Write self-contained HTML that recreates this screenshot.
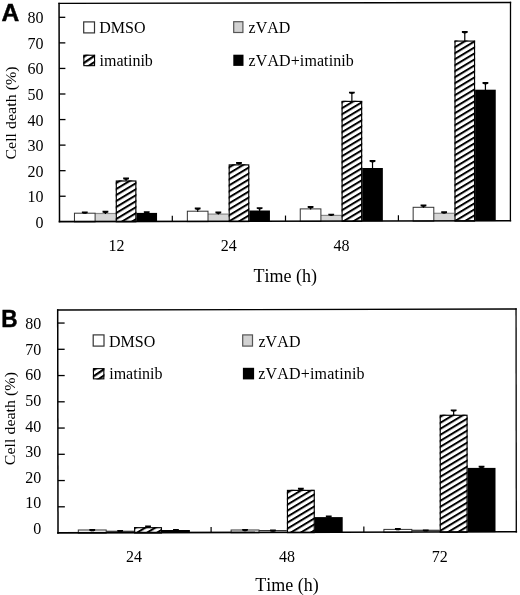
<!DOCTYPE html>
<html><head><meta charset="utf-8"><style>
html,body{margin:0;padding:0;background:#fff;width:520px;height:595px;overflow:hidden;}
svg{display:block;filter:grayscale(1);}
text{font-kerning:none;font-feature-settings:"kern" 0;}
</style></head><body>
<svg width="520" height="595" viewBox="0 0 520 595">
<rect width="520" height="595" fill="#fff"/>
<defs>
<pattern id="h0" patternUnits="userSpaceOnUse" width="10" height="5.14" y="-1.00" patternTransform="translate(117,194.6) rotate(-31)"><rect x="0" y="0" width="10" height="5.14" fill="#fff"/><rect x="0" y="0" width="10" height="2.0" fill="#000"/></pattern>
<pattern id="h1" patternUnits="userSpaceOnUse" width="10" height="5.14" y="-1.00" patternTransform="translate(229.5,191.15) rotate(-31)"><rect x="0" y="0" width="10" height="5.14" fill="#fff"/><rect x="0" y="0" width="10" height="2.0" fill="#000"/></pattern>
<pattern id="h2" patternUnits="userSpaceOnUse" width="10" height="5.14" y="-1.00" patternTransform="translate(342.5,191.9) rotate(-31)"><rect x="0" y="0" width="10" height="5.14" fill="#fff"/><rect x="0" y="0" width="10" height="2.0" fill="#000"/></pattern>
<pattern id="h3" patternUnits="userSpaceOnUse" width="10" height="5.14" y="-1.00" patternTransform="translate(455.5,190.8) rotate(-31)"><rect x="0" y="0" width="10" height="5.14" fill="#fff"/><rect x="0" y="0" width="10" height="2.0" fill="#000"/></pattern>
<pattern id="h4" patternUnits="userSpaceOnUse" width="10" height="5.14" y="-1.00" patternTransform="translate(141.2,530.2) rotate(-31)"><rect x="0" y="0" width="10" height="5.14" fill="#fff"/><rect x="0" y="0" width="10" height="2.0" fill="#000"/></pattern>
<pattern id="h5" patternUnits="userSpaceOnUse" width="10" height="5.14" y="-1.00" patternTransform="translate(288.5,510.0) rotate(-31)"><rect x="0" y="0" width="10" height="5.14" fill="#fff"/><rect x="0" y="0" width="10" height="2.0" fill="#000"/></pattern>
<pattern id="h6" patternUnits="userSpaceOnUse" width="10" height="5.14" y="-1.00" patternTransform="translate(441.1,446.35) rotate(-31)"><rect x="0" y="0" width="10" height="5.14" fill="#fff"/><rect x="0" y="0" width="10" height="2.0" fill="#000"/></pattern>
<pattern id="hatch" patternUnits="userSpaceOnUse" width="10" height="5.14" patternTransform="rotate(-31)"><rect x="0" y="0" width="10" height="5.14" fill="#fff"/><rect x="0" y="0" width="10" height="2.0" fill="#000"/></pattern>
<pattern id="hatchL" patternUnits="userSpaceOnUse" width="10" height="5.2" y="-0.8" patternTransform="rotate(-34)"><rect x="0" y="0" width="10" height="5.2" fill="#fff"/><rect x="0" y="0" width="10" height="2.2" fill="#000"/></pattern>
</defs>
<text x="43.6" y="227.92" text-anchor="end" font-family='"Liberation Serif", serif' font-size="16" fill="#000">0</text>
<line x1="59.45" y1="196.24" x2="65.65" y2="196.24" stroke="#000" stroke-width="1.3"/>
<text x="43.6" y="202.33" text-anchor="end" font-family='"Liberation Serif", serif' font-size="16" fill="#000">10</text>
<line x1="59.39" y1="170.68" x2="65.59" y2="170.68" stroke="#000" stroke-width="1.3"/>
<text x="43.6" y="176.74" text-anchor="end" font-family='"Liberation Serif", serif' font-size="16" fill="#000">20</text>
<line x1="59.34" y1="145.12" x2="65.54" y2="145.12" stroke="#000" stroke-width="1.3"/>
<text x="43.6" y="151.15" text-anchor="end" font-family='"Liberation Serif", serif' font-size="16" fill="#000">30</text>
<line x1="59.29" y1="119.56" x2="65.49" y2="119.56" stroke="#000" stroke-width="1.3"/>
<text x="43.6" y="125.56" text-anchor="end" font-family='"Liberation Serif", serif' font-size="16" fill="#000">40</text>
<line x1="59.24" y1="94.00" x2="65.44" y2="94.00" stroke="#000" stroke-width="1.3"/>
<text x="43.6" y="99.97" text-anchor="end" font-family='"Liberation Serif", serif' font-size="16" fill="#000">50</text>
<line x1="59.18" y1="68.44" x2="65.38" y2="68.44" stroke="#000" stroke-width="1.3"/>
<text x="43.6" y="74.38" text-anchor="end" font-family='"Liberation Serif", serif' font-size="16" fill="#000">60</text>
<line x1="59.13" y1="42.88" x2="65.33" y2="42.88" stroke="#000" stroke-width="1.3"/>
<text x="43.6" y="48.79" text-anchor="end" font-family='"Liberation Serif", serif' font-size="16" fill="#000">70</text>
<line x1="59.08" y1="17.32" x2="65.28" y2="17.32" stroke="#000" stroke-width="1.3"/>
<text x="43.6" y="23.20" text-anchor="end" font-family='"Liberation Serif", serif' font-size="16" fill="#000">80</text>
<line x1="172.30" y1="215.77" x2="172.30" y2="221.37" stroke="#000" stroke-width="1.2"/>
<line x1="285.50" y1="215.55" x2="285.50" y2="221.15" stroke="#000" stroke-width="1.2"/>
<line x1="398.40" y1="215.32" x2="398.40" y2="220.92" stroke="#000" stroke-width="1.2"/>
<rect x="95.10" y="213.50" width="20.65" height="8.31" fill="#d6d6d6"/>
<line x1="95.10" y1="213.50" x2="115.75" y2="213.50" stroke="#8a8a8a" stroke-width="1.2"/>
<rect x="74.45" y="213.20" width="20.65" height="8.65" fill="#fff" stroke="#333" stroke-width="1"/>
<rect x="115.75" y="180.40" width="20.65" height="41.37" fill="url(#h0)"/>
<rect x="116.30" y="181.00" width="19.55" height="40.77" fill="none" stroke="#000" stroke-width="1.15"/>
<rect x="136.40" y="212.90" width="20.65" height="8.83" fill="#000"/>
<rect x="208.00" y="214.10" width="20.65" height="7.48" fill="#d6d6d6"/>
<line x1="208.00" y1="214.10" x2="228.65" y2="214.10" stroke="#8a8a8a" stroke-width="1.2"/>
<rect x="187.35" y="211.20" width="20.65" height="10.42" fill="#fff" stroke="#333" stroke-width="1"/>
<rect x="228.65" y="164.30" width="20.65" height="57.24" fill="url(#h1)"/>
<rect x="229.20" y="164.90" width="19.55" height="56.64" fill="none" stroke="#000" stroke-width="1.15"/>
<rect x="249.30" y="210.50" width="20.65" height="11.00" fill="#000"/>
<rect x="320.90" y="215.40" width="20.65" height="5.96" fill="#d6d6d6"/>
<line x1="320.90" y1="215.40" x2="341.55" y2="215.40" stroke="#8a8a8a" stroke-width="1.2"/>
<rect x="300.25" y="208.90" width="20.65" height="12.50" fill="#fff" stroke="#333" stroke-width="1"/>
<rect x="341.55" y="100.80" width="20.65" height="120.52" fill="url(#h2)"/>
<rect x="342.10" y="101.40" width="19.55" height="119.92" fill="none" stroke="#000" stroke-width="1.15"/>
<rect x="362.20" y="168.00" width="20.65" height="53.28" fill="#000"/>
<rect x="433.80" y="213.30" width="20.65" height="7.83" fill="#d6d6d6"/>
<line x1="433.80" y1="213.30" x2="454.45" y2="213.30" stroke="#8a8a8a" stroke-width="1.2"/>
<rect x="413.15" y="207.30" width="20.65" height="13.87" fill="#fff" stroke="#333" stroke-width="1"/>
<rect x="454.45" y="40.50" width="20.65" height="180.59" fill="url(#h3)"/>
<rect x="455.00" y="41.10" width="19.55" height="179.99" fill="none" stroke="#000" stroke-width="1.15"/>
<rect x="475.10" y="89.70" width="20.65" height="131.35" fill="#000"/>
<path d="M102.52,210.80 L108.33,210.80 L108.33,212.40 L106.02,213.20 L106.02,214.00 L104.83,214.00 L104.83,213.20 L102.52,212.40 Z" fill="#000"/>
<path d="M81.88,211.50 L87.68,211.50 L87.68,213.10 L85.38,213.90 L85.38,213.70 L84.18,213.70 L84.18,213.90 L81.88,213.10 Z" fill="#000"/>
<path d="M123.17,177.60 L128.97,177.60 L128.97,179.20 L126.67,180.00 L126.67,180.90 L125.48,180.90 L125.48,180.00 L123.17,179.20 Z" fill="#000"/>
<path d="M143.82,211.20 L149.62,211.20 L149.62,212.80 L147.32,213.60 L147.32,213.40 L146.12,213.40 L146.12,213.60 L143.82,212.80 Z" fill="#000"/>
<path d="M215.43,211.60 L221.23,211.60 L221.23,213.20 L218.93,214.00 L218.93,214.60 L217.73,214.60 L217.73,214.00 L215.43,213.20 Z" fill="#000"/>
<path d="M194.78,207.60 L200.58,207.60 L200.58,209.20 L198.28,210.00 L198.28,211.70 L197.08,211.70 L197.08,210.00 L194.78,209.20 Z" fill="#000"/>
<path d="M236.08,162.10 L241.88,162.10 L241.88,163.70 L239.58,164.50 L239.58,164.80 L238.38,164.80 L238.38,164.50 L236.08,163.70 Z" fill="#000"/>
<path d="M256.73,207.20 L262.52,207.20 L262.52,208.80 L260.23,209.60 L260.23,211.00 L259.02,211.00 L259.02,209.60 L256.73,208.80 Z" fill="#000"/>
<path d="M328.32,213.70 L334.12,213.70 L334.12,215.30 L331.82,216.10 L331.82,215.90 L330.62,215.90 L330.62,216.10 L328.32,215.30 Z" fill="#000"/>
<path d="M307.68,206.10 L313.47,206.10 L313.47,207.70 L311.18,208.50 L311.18,209.40 L309.97,209.40 L309.97,208.50 L307.68,207.70 Z" fill="#000"/>
<path d="M348.98,91.70 L354.77,91.70 L354.77,93.30 L352.48,94.10 L352.48,101.30 L351.27,101.30 L351.27,94.10 L348.98,93.30 Z" fill="#000"/>
<path d="M369.62,160.10 L375.42,160.10 L375.42,161.70 L373.12,162.50 L373.12,168.50 L371.92,168.50 L371.92,162.50 L369.62,161.70 Z" fill="#000"/>
<path d="M441.23,211.30 L447.02,211.30 L447.02,212.90 L444.73,213.70 L444.73,213.80 L443.52,213.80 L443.52,213.70 L441.23,212.90 Z" fill="#000"/>
<path d="M420.58,204.60 L426.38,204.60 L426.38,206.20 L424.08,207.00 L424.08,207.80 L422.88,207.80 L422.88,207.00 L420.58,206.20 Z" fill="#000"/>
<path d="M461.88,31.10 L467.68,31.10 L467.68,32.70 L465.38,33.50 L465.38,41.00 L464.18,41.00 L464.18,33.50 L461.88,32.70 Z" fill="#000"/>
<path d="M482.53,82.10 L488.32,82.10 L488.32,83.70 L486.03,84.50 L486.03,90.20 L484.82,90.20 L484.82,84.50 L482.53,83.70 Z" fill="#000"/>
<line x1="59.05" y1="3.40" x2="59.50" y2="221.60" stroke="#000" stroke-width="1.5" stroke-linecap="square"/>
<line x1="59.05" y1="3.40" x2="510.50" y2="2.50" stroke="#000" stroke-width="1.3" stroke-linecap="square"/>
<line x1="510.50" y1="2.50" x2="510.40" y2="220.70" stroke="#000" stroke-width="1.3" stroke-linecap="square"/>
<line x1="59.50" y1="221.60" x2="510.40" y2="220.70" stroke="#000" stroke-width="1.6" stroke-linecap="square"/>
<text x="116.55" y="251.0" text-anchor="middle" font-family='"Liberation Serif", serif' font-size="16" font-weight="normal" fill="#000" >12</text>
<text x="228.65" y="251.0" text-anchor="middle" font-family='"Liberation Serif", serif' font-size="16" font-weight="normal" fill="#000" >24</text>
<text x="341.55" y="251.0" text-anchor="middle" font-family='"Liberation Serif", serif' font-size="16" font-weight="normal" fill="#000" >48</text>
<text x="285.2" y="281.8" text-anchor="middle" font-family='"Liberation Serif", serif' font-size="18" font-weight="normal" fill="#000" >Time (h)</text>
<text transform="translate(15.9,113.0) rotate(-90) scale(1.125,1)" text-anchor="middle" font-family='"Liberation Serif", serif' font-size="14.2" fill="#000">Cell death (%)</text>
<rect x="83.70" y="21.90" width="10.80" height="11.00" fill="#fff" stroke="#333" stroke-width="1.2"/>
<text x="99.3" y="33.4" text-anchor="start" font-family='"Liberation Serif", serif' font-size="16" font-weight="normal" fill="#000" >DMSO</text>
<rect x="83.30" y="54.70" width="11.80" height="11.50" fill="url(#hatchL)"/>
<rect x="83.85" y="55.25" width="10.70" height="10.40" fill="none" stroke="#000" stroke-width="1.1"/>
<text x="99.5" y="65.9" text-anchor="start" font-family='"Liberation Serif", serif' font-size="16" font-weight="normal" fill="#000" >imatinib</text>
<rect x="233.70" y="21.70" width="9.20" height="10.80" fill="#d2d2d2" stroke="#555" stroke-width="1.2"/>
<text x="248.6" y="33.3" text-anchor="start" font-family='"Liberation Serif", serif' font-size="16" font-weight="normal" fill="#000" >zVAD</text>
<rect x="233.30" y="54.70" width="10.20" height="11.20" fill="#000"/>
<text x="248.6" y="65.9" text-anchor="start" font-family='"Liberation Serif", serif' font-size="16" font-weight="normal" fill="#000" textLength="105.2" lengthAdjust="spacing">zVAD+imatinib</text>
<text x="1.5" y="20.6" text-anchor="start" font-family='"Liberation Sans", sans-serif' font-size="24.6" font-weight="bold" fill="#000" stroke="#000" stroke-width="0.45">A</text>
<text x="41.2" y="534.01" text-anchor="end" font-family='"Liberation Serif", serif' font-size="16" fill="#000">0</text>
<line x1="57.96" y1="506.80" x2="64.86" y2="506.80" stroke="#000" stroke-width="1.3"/>
<text x="41.2" y="508.39" text-anchor="end" font-family='"Liberation Serif", serif' font-size="16" fill="#000">10</text>
<line x1="57.93" y1="480.55" x2="64.83" y2="480.55" stroke="#000" stroke-width="1.3"/>
<text x="41.2" y="482.77" text-anchor="end" font-family='"Liberation Serif", serif' font-size="16" fill="#000">20</text>
<line x1="57.89" y1="454.30" x2="64.79" y2="454.30" stroke="#000" stroke-width="1.3"/>
<text x="41.2" y="457.15" text-anchor="end" font-family='"Liberation Serif", serif' font-size="16" fill="#000">30</text>
<line x1="57.86" y1="428.05" x2="64.76" y2="428.05" stroke="#000" stroke-width="1.3"/>
<text x="41.2" y="431.53" text-anchor="end" font-family='"Liberation Serif", serif' font-size="16" fill="#000">40</text>
<line x1="57.82" y1="401.80" x2="64.72" y2="401.80" stroke="#000" stroke-width="1.3"/>
<text x="41.2" y="405.91" text-anchor="end" font-family='"Liberation Serif", serif' font-size="16" fill="#000">50</text>
<line x1="57.79" y1="375.55" x2="64.69" y2="375.55" stroke="#000" stroke-width="1.3"/>
<text x="41.2" y="380.29" text-anchor="end" font-family='"Liberation Serif", serif' font-size="16" fill="#000">60</text>
<line x1="57.75" y1="349.30" x2="64.65" y2="349.30" stroke="#000" stroke-width="1.3"/>
<text x="41.2" y="354.67" text-anchor="end" font-family='"Liberation Serif", serif' font-size="16" fill="#000">70</text>
<line x1="57.72" y1="323.05" x2="64.62" y2="323.05" stroke="#000" stroke-width="1.3"/>
<text x="41.2" y="329.05" text-anchor="end" font-family='"Liberation Serif", serif' font-size="16" fill="#000">80</text>
<line x1="211.10" y1="526.93" x2="211.10" y2="532.53" stroke="#000" stroke-width="1.2"/>
<line x1="363.85" y1="526.57" x2="363.85" y2="532.17" stroke="#000" stroke-width="1.2"/>
<rect x="106.20" y="531.30" width="27.90" height="1.75" fill="#d6d6d6"/>
<line x1="106.20" y1="531.30" x2="134.10" y2="531.30" stroke="#333" stroke-width="1.2"/>
<rect x="78.30" y="530.00" width="27.90" height="3.12" fill="#fff" stroke="#333" stroke-width="1"/>
<rect x="134.10" y="527.10" width="27.90" height="5.88" fill="url(#h4)"/>
<rect x="134.65" y="527.70" width="26.80" height="5.28" fill="none" stroke="#000" stroke-width="1.15"/>
<rect x="162.00" y="530.00" width="27.90" height="2.92" fill="#000"/>
<rect x="259.00" y="530.60" width="27.90" height="2.08" fill="#d6d6d6"/>
<line x1="259.00" y1="530.60" x2="286.90" y2="530.60" stroke="#333" stroke-width="1.2"/>
<rect x="231.10" y="530.00" width="27.90" height="2.75" fill="#fff" stroke="#333" stroke-width="1"/>
<rect x="286.90" y="489.80" width="27.90" height="42.82" fill="url(#h5)"/>
<rect x="287.45" y="490.40" width="26.80" height="42.22" fill="none" stroke="#000" stroke-width="1.15"/>
<rect x="314.80" y="517.10" width="27.90" height="15.45" fill="#000"/>
<rect x="411.80" y="530.30" width="27.90" height="2.02" fill="#d6d6d6"/>
<line x1="411.80" y1="530.30" x2="439.70" y2="530.30" stroke="#333" stroke-width="1.2"/>
<rect x="383.90" y="529.40" width="27.90" height="2.98" fill="#fff" stroke="#333" stroke-width="1"/>
<rect x="439.70" y="414.70" width="27.90" height="117.55" fill="url(#h6)"/>
<rect x="440.25" y="415.30" width="26.80" height="116.95" fill="none" stroke="#000" stroke-width="1.15"/>
<rect x="467.60" y="467.90" width="27.90" height="64.28" fill="#000"/>
<path d="M117.25,530.00 L123.05,530.00 L123.05,531.60 L120.75,532.40 L120.75,532.20 L119.55,532.20 L119.55,532.40 L117.25,531.60 Z" fill="#000"/>
<path d="M89.35,529.10 L95.15,529.10 L95.15,530.70 L92.85,531.50 L92.85,531.30 L91.65,531.30 L91.65,531.50 L89.35,530.70 Z" fill="#000"/>
<path d="M145.15,525.60 L150.95,525.60 L150.95,527.20 L148.65,528.00 L148.65,527.80 L147.45,527.80 L147.45,528.00 L145.15,527.20 Z" fill="#000"/>
<path d="M173.05,529.00 L178.85,529.00 L178.85,530.60 L176.55,531.40 L176.55,531.20 L175.35,531.20 L175.35,531.40 L173.05,530.60 Z" fill="#000"/>
<path d="M270.05,529.60 L275.85,529.60 L275.85,531.20 L273.55,532.00 L273.55,531.80 L272.35,531.80 L272.35,532.00 L270.05,531.20 Z" fill="#000"/>
<path d="M242.15,529.00 L247.95,529.00 L247.95,530.60 L245.65,531.40 L245.65,531.20 L244.45,531.20 L244.45,531.40 L242.15,530.60 Z" fill="#000"/>
<path d="M297.95,487.80 L303.75,487.80 L303.75,489.40 L301.45,490.20 L301.45,490.30 L300.25,490.30 L300.25,490.20 L297.95,489.40 Z" fill="#000"/>
<path d="M325.85,515.60 L331.65,515.60 L331.65,517.20 L329.35,518.00 L329.35,517.80 L328.15,517.80 L328.15,518.00 L325.85,517.20 Z" fill="#000"/>
<path d="M422.85,529.40 L428.65,529.40 L428.65,531.00 L426.35,531.80 L426.35,531.60 L425.15,531.60 L425.15,531.80 L422.85,531.00 Z" fill="#000"/>
<path d="M394.95,528.10 L400.75,528.10 L400.75,529.70 L398.45,530.50 L398.45,530.30 L397.25,530.30 L397.25,530.50 L394.95,529.70 Z" fill="#000"/>
<path d="M450.75,409.40 L456.55,409.40 L456.55,411.00 L454.25,411.80 L454.25,415.20 L453.05,415.20 L453.05,411.80 L450.75,411.00 Z" fill="#000"/>
<path d="M478.65,465.80 L484.45,465.80 L484.45,467.40 L482.15,468.20 L482.15,468.40 L480.95,468.40 L480.95,468.20 L478.65,467.40 Z" fill="#000"/>
<line x1="57.70" y1="310.00" x2="58.00" y2="532.90" stroke="#000" stroke-width="1.5" stroke-linecap="square"/>
<line x1="57.70" y1="310.00" x2="516.05" y2="309.00" stroke="#000" stroke-width="1.3" stroke-linecap="square"/>
<line x1="516.05" y1="309.00" x2="516.30" y2="531.80" stroke="#000" stroke-width="1.3" stroke-linecap="square"/>
<line x1="58.00" y1="532.90" x2="516.30" y2="531.80" stroke="#000" stroke-width="1.6" stroke-linecap="square"/>
<text x="134.10" y="562.4" text-anchor="middle" font-family='"Liberation Serif", serif' font-size="16" font-weight="normal" fill="#000" >24</text>
<text x="286.90" y="562.4" text-anchor="middle" font-family='"Liberation Serif", serif' font-size="16" font-weight="normal" fill="#000" >48</text>
<text x="439.70" y="562.4" text-anchor="middle" font-family='"Liberation Serif", serif' font-size="16" font-weight="normal" fill="#000" >72</text>
<text x="287.0" y="591.3" text-anchor="middle" font-family='"Liberation Serif", serif' font-size="18" font-weight="normal" fill="#000" >Time (h)</text>
<text transform="translate(14.5,418.6) rotate(-90) scale(1.125,1)" text-anchor="middle" font-family='"Liberation Serif", serif' font-size="14.2" fill="#000">Cell death (%)</text>
<rect x="93.20" y="334.90" width="10.80" height="11.20" fill="#fff" stroke="#333" stroke-width="1.2"/>
<text x="109.0" y="346.6" text-anchor="start" font-family='"Liberation Serif", serif' font-size="16" font-weight="normal" fill="#000" >DMSO</text>
<rect x="92.90" y="368.10" width="11.50" height="11.30" fill="url(#hatchL)"/>
<rect x="93.45" y="368.65" width="10.40" height="10.20" fill="none" stroke="#000" stroke-width="1.1"/>
<text x="109.2" y="379.3" text-anchor="start" font-family='"Liberation Serif", serif' font-size="16" font-weight="normal" fill="#000" >imatinib</text>
<rect x="242.70" y="334.90" width="9.80" height="11.20" fill="#d2d2d2" stroke="#555" stroke-width="1.2"/>
<text x="258.4" y="346.8" text-anchor="start" font-family='"Liberation Serif", serif' font-size="16" font-weight="normal" fill="#000" textLength="42.1" lengthAdjust="spacing">zVAD</text>
<rect x="242.90" y="367.80" width="11.20" height="11.60" fill="#000"/>
<text x="258.2" y="379.4" text-anchor="start" font-family='"Liberation Serif", serif' font-size="16" font-weight="normal" fill="#000" textLength="106.4" lengthAdjust="spacing">zVAD+imatinib</text>
<text x="0" y="0" text-anchor="start" font-family='"Liberation Sans", sans-serif' font-size="24.6" font-weight="bold" fill="#000" stroke="#000" stroke-width="0.45" transform="translate(1.2,326.5) scale(0.92,1)">B</text>
</svg>
</body></html>
